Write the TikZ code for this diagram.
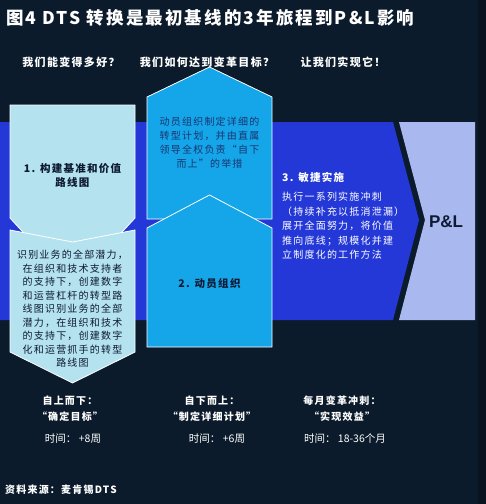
\documentclass[tikz,border=0pt]{standalone}
\usepackage{fontspec}
\setmainfont{Noto Sans CJK SC}
\newfontfamily\spc{Noto Sans CJK SC}[LetterSpace=12]
\newfontfamily\plfont{Liberation Sans}
\usetikzlibrary{positioning}
\definecolor{bgnavy}{HTML}{0C1B2B}
\definecolor{edgenavy}{HTML}{08131F}
\definecolor{bandblue}{HTML}{2438D8}
\definecolor{paleteal}{HTML}{B4E2EE}
\definecolor{cyanbox}{HTML}{14A6E8}
\definecolor{lavbox}{HTML}{AAB8F0}
\definecolor{inkdark}{HTML}{0D1A33}
\definecolor{inkblue}{HTML}{1A3470}

\begin{document}
\begin{tikzpicture}[x=1pt, y=-1pt,
    shp/.style={draw=white, line width=0.8pt, line join=miter},
    title/.style={inner sep=0pt, anchor=west, text=white, font=\spc\bfseries\fontsize{17.5}{20}\selectfont},
    quest/.style={inner sep=0pt, text=white, font=\spc\bfseries\fontsize{11}{13}\selectfont},
    body/.style={inner sep=0pt, align=center, font=\spc\fontsize{10}{13.5}\selectfont},
    head/.style={inner sep=0pt, align=center, font=\spc\bfseries\fontsize{10.5}{14}\selectfont},
    foot/.style={inner sep=0pt, align=center, text=white, font=\spc\bfseries\fontsize{10}{12}\selectfont},
    tm/.style={inner sep=0pt, text=white, font=\fontsize{10.5}{12}\selectfont}
]
\useasboundingbox (0,0) rectangle (486,504);
\fill[bgnavy] (0,0) rectangle (486,504);
\fill[edgenavy] (478,0) rectangle (486,504);

% band and P&L
\fill[bandblue] (0,122) -- (393,122) -- (419,220) -- (393,320) -- (0,320) -- cycle;
\fill[lavbox] (399,122) -- (475,122) -- (475,320) -- (399,320) -- (425,220) -- cycle;

% step 1
\filldraw[paleteal, shp] (10,105) -- (135,105) -- (135,218) -- (72.5,286) -- (10,218) -- cycle;
\filldraw[paleteal, shp] (10,230) -- (72.5,242) -- (135,230) -- (135,352) -- (72.5,383) -- (10,352) -- cycle;

% step 2
\filldraw[cyanbox, shp] (147,97) -- (209.5,67) -- (272,97) -- (272,219) -- (147,219) -- cycle;
\filldraw[cyanbox, shp] (147,228) -- (209.5,195) -- (272,228) -- (272,347) -- (147,347) -- cycle;

% texts
\node[title] (ttl) at (6,18) {图4 DTS 转换是最初基线的3年旅程到P\&L影响};

\node[quest] (q1) at (71,62) {我们能变得多好？};
\node[quest] (q2) at (207,62) {我们如何达到变革目标？};
\node[quest] (q3) at (343,62) {让我们实现它！};

\node[head, text=inkdark] (s1head) at (72.5,175) {1. 构建基准和价值\\路线图};
\node[body, text=inkdark] (s1body) at (72.5,309) {识别业务的全部潜力，\\在组织和技术支持者\\的支持下，创建数字\\和运营杠杆的转型路\\线图识别业务的全部\\潜力，在组织和技术\\的支持下，创建数字\\化和运营抓手的转型\\路线图};

\node[body, text=inkblue, font=\spc\fontsize{10}{14}\selectfont] (s2body) at (209.5,143) {动员组织制定详细的\\转型计划，并由直属\\领导全权负责“自下\\而上”的举措};
\node[head, text=inkdark] (s2head) at (209.5,284) {2. 动员组织};

\node[head, text=white, anchor=west] (s3head) at (282,177) {3. 敏捷实施};
\node[body, text=white, align=left, anchor=north west, font=\spc\fontsize{10}{14.5}\selectfont] (s3body) at (282,192) {执行一系列实施冲刺\\（持续补充以抵消泄漏）\\展开全面努力，将价值\\推向底线；规模化并建\\立制度化的工作方法};

\node[inner sep=0pt, text=inkdark, font=\plfont\bfseries\fontsize{17}{20}\selectfont] (pl) at (446,222) {P\&L};

% bottom
\node[foot] (b1a) at (70,401) {自上而下：};
\node[foot, below=6pt of b1a.south, anchor=north] (b1b) {“确定目标”};
\node[tm] (b1c) at (73,439) {时间： +8周};

\node[foot] (b2a) at (212,401) {自下而上：};
\node[foot, below=6pt of b2a.south, anchor=north] (b2b) {“制定详细计划”};
\node[tm] (b2c) at (217,439) {时间： +6周};

\node[foot] (b3a) at (342,401) {每月变革冲刺：};
\node[foot, below=6pt of b3a.south, anchor=north] (b3b) {“实现效益”};
\node[tm] (b3c) at (345,439) {时间： 18-36个月};

\node[foot, anchor=west] (src) at (5,490) {资料来源：麦肯锡DTS};
\end{tikzpicture}
\end{document}
